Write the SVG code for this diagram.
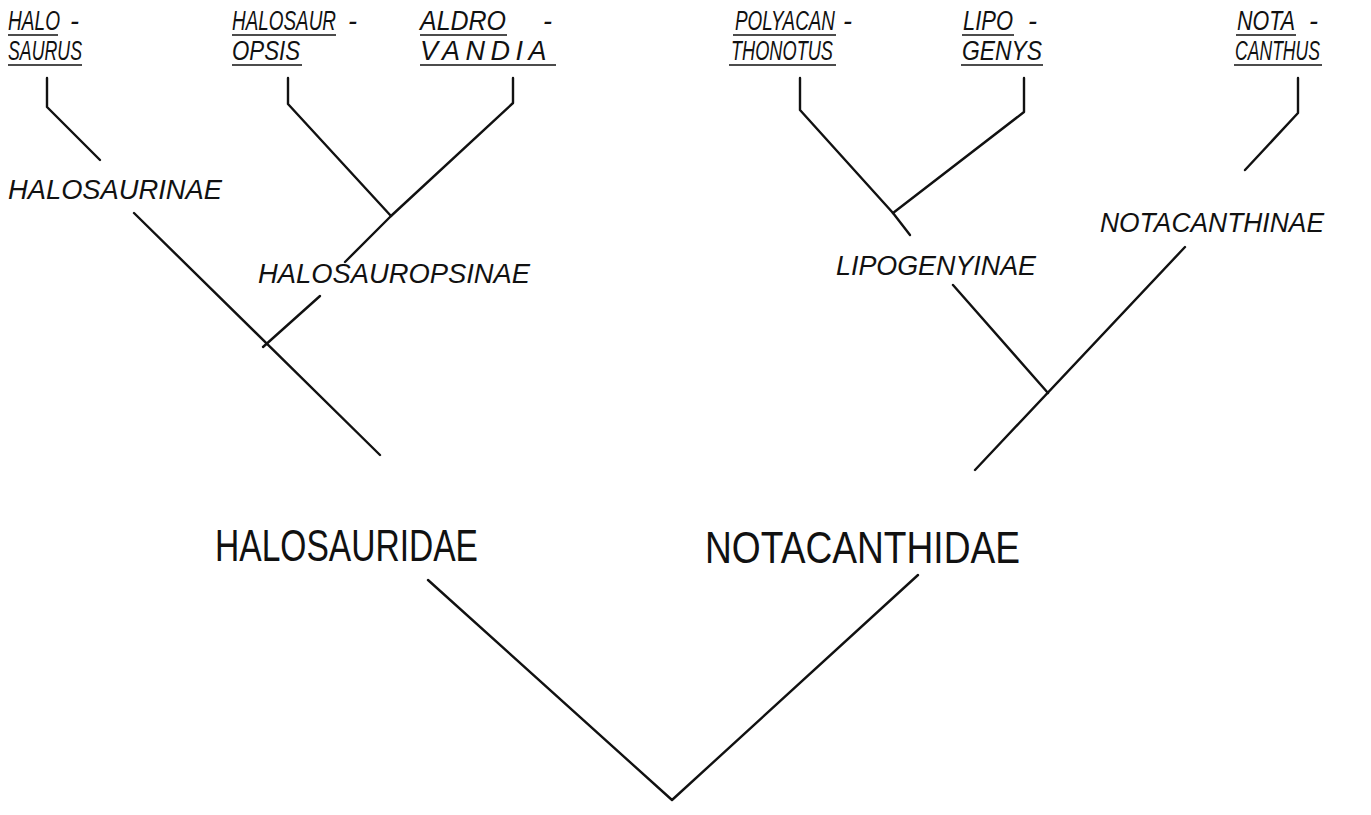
<svg xmlns="http://www.w3.org/2000/svg" width="1371" height="815" viewBox="0 0 1371 815">
<style>
.g{font-family:"Liberation Sans",Arial,sans-serif;font-style:italic;font-size:27px;fill:#111}
.s{font-family:"Liberation Sans",Arial,sans-serif;font-style:italic;font-size:27px;fill:#111}
.f{font-family:"Liberation Sans",Arial,sans-serif;font-size:45px;fill:#111;font-weight:normal}
.u{stroke:#111;stroke-width:1.6;fill:none}
.c{stroke:#111;stroke-width:2.4;fill:none;stroke-linecap:round;stroke-linejoin:round}
</style>
<rect width="1371" height="815" fill="#fff"/>
<g id="halosaurus">
<text class="g" y="30"><tspan x="8" textLength="52" lengthAdjust="spacingAndGlyphs">HALO</tspan><tspan x="70">-</tspan></text>
<line class="u" x1="8" y1="35" x2="58" y2="35"/>
<text class="g" x="8" y="60" textLength="74" lengthAdjust="spacingAndGlyphs">SAURUS</text>
<line class="u" x1="8" y1="65" x2="82" y2="65"/>
</g>
<g id="halosauropsis">
<text class="g" y="30"><tspan x="232" textLength="104" lengthAdjust="spacingAndGlyphs">HALOSAUR</tspan><tspan x="348">-</tspan></text>
<line class="u" x1="232" y1="35" x2="336" y2="35"/>
<text class="g" x="232" y="60" textLength="68" lengthAdjust="spacingAndGlyphs">OPSIS</text>
<line class="u" x1="232" y1="65" x2="302" y2="65"/>
</g>
<g id="aldrovandia">
<text class="g" y="30"><tspan x="420" textLength="86" lengthAdjust="spacingAndGlyphs">ALDRO</tspan><tspan x="543">-</tspan></text>
<line class="u" x1="420" y1="35" x2="507" y2="35"/>
<text class="g" x="420" y="60" letter-spacing="5.5">VANDIA</text>
<line class="u" x1="420" y1="65" x2="556" y2="65"/>
</g>
<g id="polyacanthonotus">
<text class="g" y="30"><tspan x="735" textLength="100" lengthAdjust="spacingAndGlyphs">POLYACAN</tspan><tspan x="843">-</tspan></text>
<line class="u" x1="733" y1="35" x2="836" y2="35"/>
<text class="g" x="731" y="60" textLength="102" lengthAdjust="spacingAndGlyphs">THONOTUS</text>
<line class="u" x1="729" y1="65" x2="836" y2="65"/>
</g>
<g id="lipogenys">
<text class="g" y="30"><tspan x="963" textLength="50" lengthAdjust="spacingAndGlyphs">LIPO</tspan><tspan x="1028">-</tspan></text>
<line class="u" x1="962" y1="35" x2="1014" y2="35"/>
<text class="g" x="962" y="60" textLength="80" lengthAdjust="spacingAndGlyphs">GENYS</text>
<line class="u" x1="961" y1="65" x2="1043" y2="65"/>
</g>
<g id="notacanthus">
<text class="g" y="30"><tspan x="1237" textLength="58" lengthAdjust="spacingAndGlyphs">NOTA</tspan><tspan x="1309">-</tspan></text>
<line class="u" x1="1236" y1="35" x2="1296" y2="35"/>
<text class="g" x="1235" y="60" textLength="85" lengthAdjust="spacingAndGlyphs">CANTHUS</text>
<line class="u" x1="1234" y1="65" x2="1322" y2="65"/>
</g>
<g id="halosaurinae"><text class="s" x="8" y="199" textLength="214" lengthAdjust="spacingAndGlyphs">HALOSAURINAE</text></g>
<g id="halosauropsinae"><text class="s" x="258" y="283" textLength="272" lengthAdjust="spacingAndGlyphs">HALOSAUROPSINAE</text></g>
<g id="lipogenyinae"><text class="s" x="836" y="275" textLength="200" lengthAdjust="spacingAndGlyphs">LIPOGENYINAE</text></g>
<g id="notacanthinae"><text class="s" x="1100" y="232" textLength="224" lengthAdjust="spacingAndGlyphs">NOTACANTHINAE</text></g>
<g id="halosauridae"><text class="f" x="215" y="561" textLength="263" lengthAdjust="spacingAndGlyphs">HALOSAURIDAE</text></g>
<g id="notacanthidae"><text class="f" x="705" y="563" textLength="315" lengthAdjust="spacingAndGlyphs">NOTACANTHIDAE</text></g>
<g id="connectors">
<polyline class="c" points="47,78 47,107 100,160"/>
<line class="c" x1="134" y1="213" x2="380" y2="455"/>
<polyline class="c" points="288,78 288,104 391,216"/>
<polyline class="c" points="513,78 513,103 391,216 345,262"/>
<line class="c" x1="320" y1="296" x2="263" y2="347"/>
<polyline class="c" points="800,78 800,110 893,213 910,235"/>
<polyline class="c" points="1024,78 1024,112 893,213"/>
<polyline class="c" points="1298,78 1298,113 1245,170"/>
<line class="c" x1="953" y1="285" x2="1048" y2="393"/>
<line class="c" x1="1185" y1="247" x2="975" y2="470"/>
<polyline class="c" points="428,580 672,800 918,575"/>
</g>
</svg>
